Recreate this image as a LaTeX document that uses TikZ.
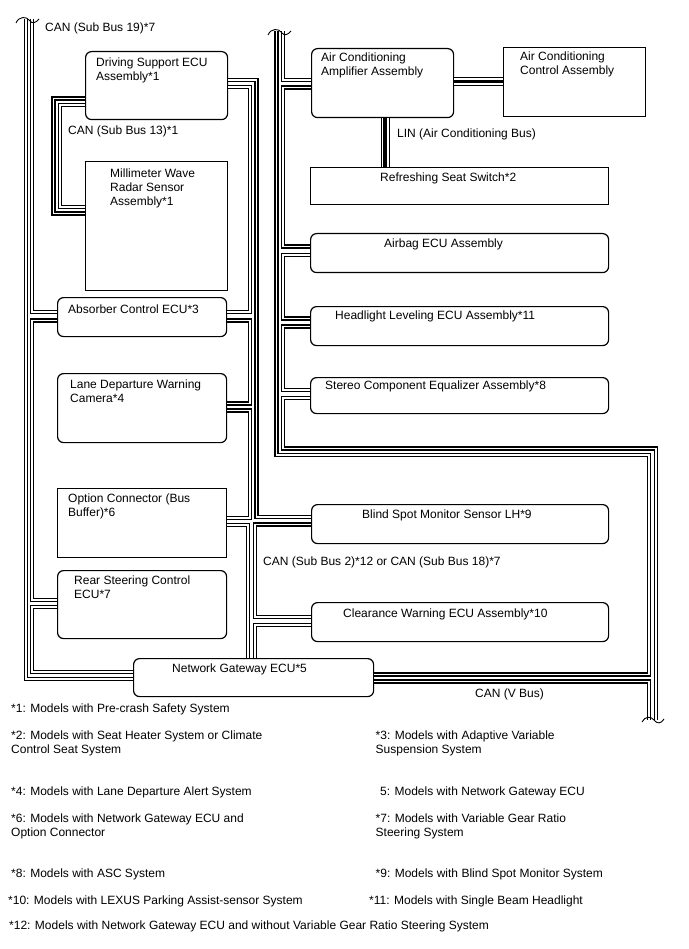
\documentclass[tikz,border=0pt]{standalone}
\usepackage{fontspec}
\setmainfont{Liberation Sans}
\usepackage{tikz}
\usetikzlibrary{positioning}
\usepackage{xcolor}
\tikzstyle{ecu} = [rectangle, draw, line width=1.2pt, rounded corners=6pt,
    anchor=north west, inner sep=0pt]
\tikzstyle{unit} = [rectangle, draw, line width=1.2pt,
    anchor=north west, inner sep=0pt]
\tikzstyle{txt} = [inner sep=0pt, align=left, anchor=north west,
    font=\fontsize{12}{14}\selectfont]
\tikzstyle{wire} = [draw, line width=1.3pt, double=white, double distance=1.6pt]
\tikzstyle{linbus} = [draw, line width=3.4pt, preaction={draw, line width=9pt},
    preaction={draw=white, line width=7pt}]
\tikzstyle{brk} = [draw, line width=0.9pt]

\begin{document}
\begin{tikzpicture}[x=1pt, y=-1pt]
        \useasboundingbox (0,0) rectangle (688,949);
        \fill [white] (0,0) rectangle (688,949);

        % Nodes
        \node [ecu, minimum width=142pt, minimum height=68pt] (ds) at (85,51) {};
        \node [unit, minimum width=142pt, minimum height=129pt] (mw) at (85,161) {};
        \node [ecu, minimum width=169pt, minimum height=39pt] (abs) at (57,297) {};
        \node [ecu, minimum width=169pt, minimum height=69pt] (ldw) at (57,373) {};
        \node [unit, minimum width=169pt, minimum height=69pt] (oc) at (57,488) {};
        \node [ecu, minimum width=169pt, minimum height=68pt] (rs) at (57,570) {};
        \node [ecu, minimum width=240pt, minimum height=38pt] (ng) at (133,658) {};
        \node [ecu, minimum width=142pt, minimum height=69pt] (acamp) at (311,48) {};
        \node [unit, minimum width=142pt, minimum height=69pt] (acctl) at (503,47) {};
        \node [unit, minimum width=298pt, minimum height=37pt] (seat) at (310,167) {};
        \node [ecu, minimum width=298pt, minimum height=39pt] (airbag) at (310,233) {};
        \node [ecu, minimum width=298pt, minimum height=39pt] (head) at (310,306) {};
        \node [ecu, minimum width=298pt, minimum height=36pt] (stereo) at (310,377) {};
        \node [ecu, minimum width=297pt, minimum height=39pt] (bsm) at (311,504) {};
        \node [ecu, minimum width=297pt, minimum height=39pt] (cw) at (311,602) {};

        % Texts in boxes
        \node [txt, below right=6.6pt and 11pt of ds.north west] (dstxt) {Driving Support ECU\\Assembly*1};
        \node [txt, below right=7.6pt and 25pt of mw.north west] (mwtxt) {Millimeter Wave\\Radar Sensor\\Assembly*1};
        \node [txt, below right=7.6pt and 11pt of abs.north west] (abstxt) {Absorber Control ECU*3};
        \node [txt, below right=6.6pt and 13pt of ldw.north west] (ldwtxt) {Lane Departure Warning\\Camera*4};
        \node [txt, below right=5.6pt and 11pt of oc.north west] (octxt) {Option Connector (Bus\\Buffer)*6};
        \node [txt, below right=5.6pt and 17pt of rs.north west] (rstxt) {Rear Steering Control\\ECU*7};
        \node [txt, below right=5.6pt and 39pt of ng.north west] (ngtxt) {Network Gateway ECU*5};
        \node [txt, below right=4.6pt and 10pt of acamp.north west] (acamptxt) {Air Conditioning\\Amplifier Assembly};
        \node [txt, below right=4.6pt and 17pt of acctl.north west] (acctltxt) {Air Conditioning\\Control Assembly};
        \node [txt, below right=5.6pt and 70pt of seat.north west] (seattxt) {Refreshing Seat Switch*2};
        \node [txt, below right=5.6pt and 74pt of airbag.north west] (airbagtxt) {Airbag ECU Assembly};
        \node [txt, below right=4.6pt and 25pt of head.north west] (headtxt) {Headlight Leveling ECU Assembly*11};
        \node [txt, below right=3.6pt and 15pt of stereo.north west] (stereotxt) {Stereo Component Equalizer Assembly*8};
        \node [txt, below right=5.6pt and 51pt of bsm.north west] (bsmtxt) {Blind Spot Monitor Sensor LH*9};
        \node [txt, below right=6.6pt and 32pt of cw.north west] (cwtxt) {Clearance Warning ECU Assembly*10};

        % Bus names
        \node [txt] (sb19) at (45,22.6) {CAN (Sub Bus 19)*7};
        \node [txt] (sb13) at (68,125.6) {CAN (Sub Bus 13)*1};
        \node [txt] (lin) at (397,128.6) {LIN (Air Conditioning Bus)};
        \node [txt] (sb2) at (263,556.6) {CAN (Sub Bus 2)*12 or CAN (Sub Bus 18)*7};
        \node [txt] (vbus) at (475,688.6) {CAN (V Bus)};

        % Free ends
        \coordinate (sb19a) at (26,19.5);
        \coordinate (sb19b) at (32,19.5);
        \coordinate (vbusa) at (276.5,31.5);
        \coordinate (vbusb) at (283,31.5);
        \coordinate (vbusc) at (656,720);
        \coordinate (vbusd) at (649,720);

        % Lines
        \path [wire] (sb19a) |- (ng.west |- 0,679);
        \path [wire] (sb19b) |- (abs.west |- 0,312);
        \path [wire] (abs.west |- 0,320.5) -- (32,320.5) |- (rs.west |- 0,600);
        \path [wire] (rs.west |- 0,607) -- (32,607) |- (ng.west |- 0,672);

        \path [wire] (ds.west |- 0,98.5) -- (53.5,98.5) |- (mw.west |- 0,213.5);
        \path [wire] (ds.west |- 0,105) -- (60,105) |- (mw.west |- 0,207);

        \path [wire] (ds.east |- 0,80.3) -- (256.5,80.3) |- (bsm.west |- 0,517);
        \path [wire] (ds.east |- 0,86.8) -- (250,86.8) |- (abs.east |- 0,312);
        \path [wire] (abs.east |- 0,320.5) -- (250,320.5) |- (ldw.east |- 0,403.5);
        \path [wire] (ldw.east |- 0,410.5) -- (250,410.5) |- (oc.east |- 0,518);
        \path [wire] (oc.east |- 0,525) -| (ng.north -| 248,0);
        \path [wire] (bsm.west |- 0,524.5) -- (255,524.5) |- (cw.west |- 0,617);
        \path [wire] (cw.west |- 0,625) -| (ng.north -| 255,0);

        \path [wire] (vbusa) |- (649,455) |- (ng.east |- 0,674.5);
        \path [wire] (vbusb) |- (acamp.west |- 0,80);
        \path [wire] (acamp.west |- 0,87.5) -- (283,87.5) |- (airbag.west |- 0,246.5);
        \path [wire] (airbag.west |- 0,255) -- (283,255) |- (head.west |- 0,318.5);
        \path [wire] (head.west |- 0,326.5) -- (283,326.5) |- (stereo.west |- 0,390);
        \path [wire] (stereo.west |- 0,398) -- (283,398) |- (656,448.5) -- (vbusc);
        \path [wire] (ng.east |- 0,681.5) -| (vbusd);

        \path [linbus] (acamp.east |- 0,81.3) -- (acctl.west |- 0,81.3);
        \path [linbus] (acamp.south -| 385,0) -- (seat.north -| 385,0);

        % Bus breaks
        \draw [brk] (16,23) .. controls (19,16) and (27,16) .. (30,21) .. controls (32,24) and (36,23) .. (39,19);
        \draw [brk] (268,35) .. controls (271,28) and (279,28) .. (282,33) .. controls (284,36) and (288,35) .. (291,31);
        \draw [brk] (642,722) .. controls (645,716) and (651,716) .. (654,720) .. controls (657,724) and (661,724) .. (664,719);

        % Notes
        \node [txt] (n1) at (11,703.4) {*1: Models with Pre-crash Safety System};
        \node [txt] (n2) at (11,730.6) {*2: Models with Seat Heater System or Climate\\Control Seat System};
        \node [txt] (n3) at (375.5,730.6) {*3: Models with Adaptive Variable\\Suspension System};
        \node [txt] (n4) at (11,786.3) {*4: Models with Lane Departure Alert System};
        \node [txt] (n5) at (380,786.3) {5: Models with Network Gateway ECU};
        \node [txt] (n6) at (11,813.6) {*6: Models with Network Gateway ECU and\\Option Connector};
        \node [txt] (n7) at (375.5,813.6) {*7: Models with Variable Gear Ratio\\Steering System};
        \node [txt] (n8) at (11,868.3) {*8: Models with ASC System};
        \node [txt] (n9) at (375.5,868.3) {*9: Models with Blind Spot Monitor System};
        \node [txt] (n10) at (8,895.6) {*10: Models with LEXUS Parking Assist-sensor System};
        \node [txt] (n11) at (369,895.6) {*11: Models with Single Beam Headlight};
        \node [txt] (n12) at (9,920.6) {*12: Models with Network Gateway ECU and without Variable Gear Ratio Steering System};
    \end{tikzpicture}
\end{document}
